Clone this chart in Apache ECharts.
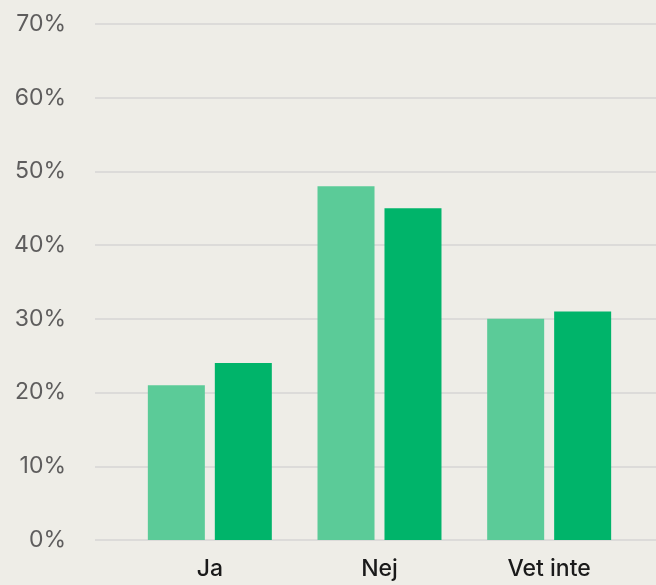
<!DOCTYPE html>
<html>
<head>
<meta charset="utf-8">
<script src="https://cdn.jsdelivr.net/npm/echarts@6/dist/echarts.min.js"></script>
<style>
  html, body { margin: 0; padding: 0; background: #eeede7; }
  #chart { width: 656px; height: 585px; }
</style>
</head>
<body>
<div id="chart"></div>
<script>
// data
var categories = ["Ja", "Nej", "Vet inte"];
var seriesA = [21, 48, 30]; // light green
var seriesB = [24, 45, 31]; // dark green
var yTicks = [0, 10, 20, 30, 40, 50, 60, 70];

var yMin = yTicks[0];
var yMax = yTicks[yTicks.length - 1];

var myChart = echarts.init(document.getElementById("chart"));
myChart.setOption({
  backgroundColor: "#eeede7",
  animation: false,
  // grid 0 only carries the y labels and the full-width grid lines
  // grid 1 holds the bars (narrower than the lines)
  grid: [
    { left: 95, right: 0, top: 24, bottom: 45 },
    { left: 125, right: 22, top: 24, bottom: 45 }
  ],
  xAxis: [
    {
      gridIndex: 0,
      type: "category",
      data: [""],
      show: false
    },
    {
      gridIndex: 1,
      type: "category",
      data: categories,
      axisLine: { show: false },
      axisTick: { show: false },
      axisLabel: {
        color: "#1a1a1a",
        fontFamily: "Inter",
        fontSize: 23,
        fontWeight: 500,
        margin: 18
      }
    }
  ],
  yAxis: [
    {
      gridIndex: 0,
      type: "value",
      min: yMin,
      max: yMax,
      interval: 10,
      axisLine: { show: false },
      axisTick: { show: false },
      axisLabel: {
        color: "#5e5d5d",
        fontFamily: "Inter",
        fontSize: 23,
        margin: 29,
        formatter: "{value}%"
      },
      splitLine: { lineStyle: { color: "#dcdbd9", width: 2 } }
    },
    {
      gridIndex: 1,
      type: "value",
      min: yMin,
      max: yMax,
      interval: 10,
      show: false,
      splitLine: { show: false }
    }
  ],
  series: [
    {
      type: "bar",
      xAxisIndex: 1,
      yAxisIndex: 1,
      data: seriesA,
      barWidth: 57,
      barGap: "17.5%",
      itemStyle: { color: "#5bcb98" }
    },
    {
      type: "bar",
      xAxisIndex: 1,
      yAxisIndex: 1,
      data: seriesB,
      barWidth: 57,
      itemStyle: { color: "#00b46a" }
    }
  ]
});
</script>
</body>
</html>
